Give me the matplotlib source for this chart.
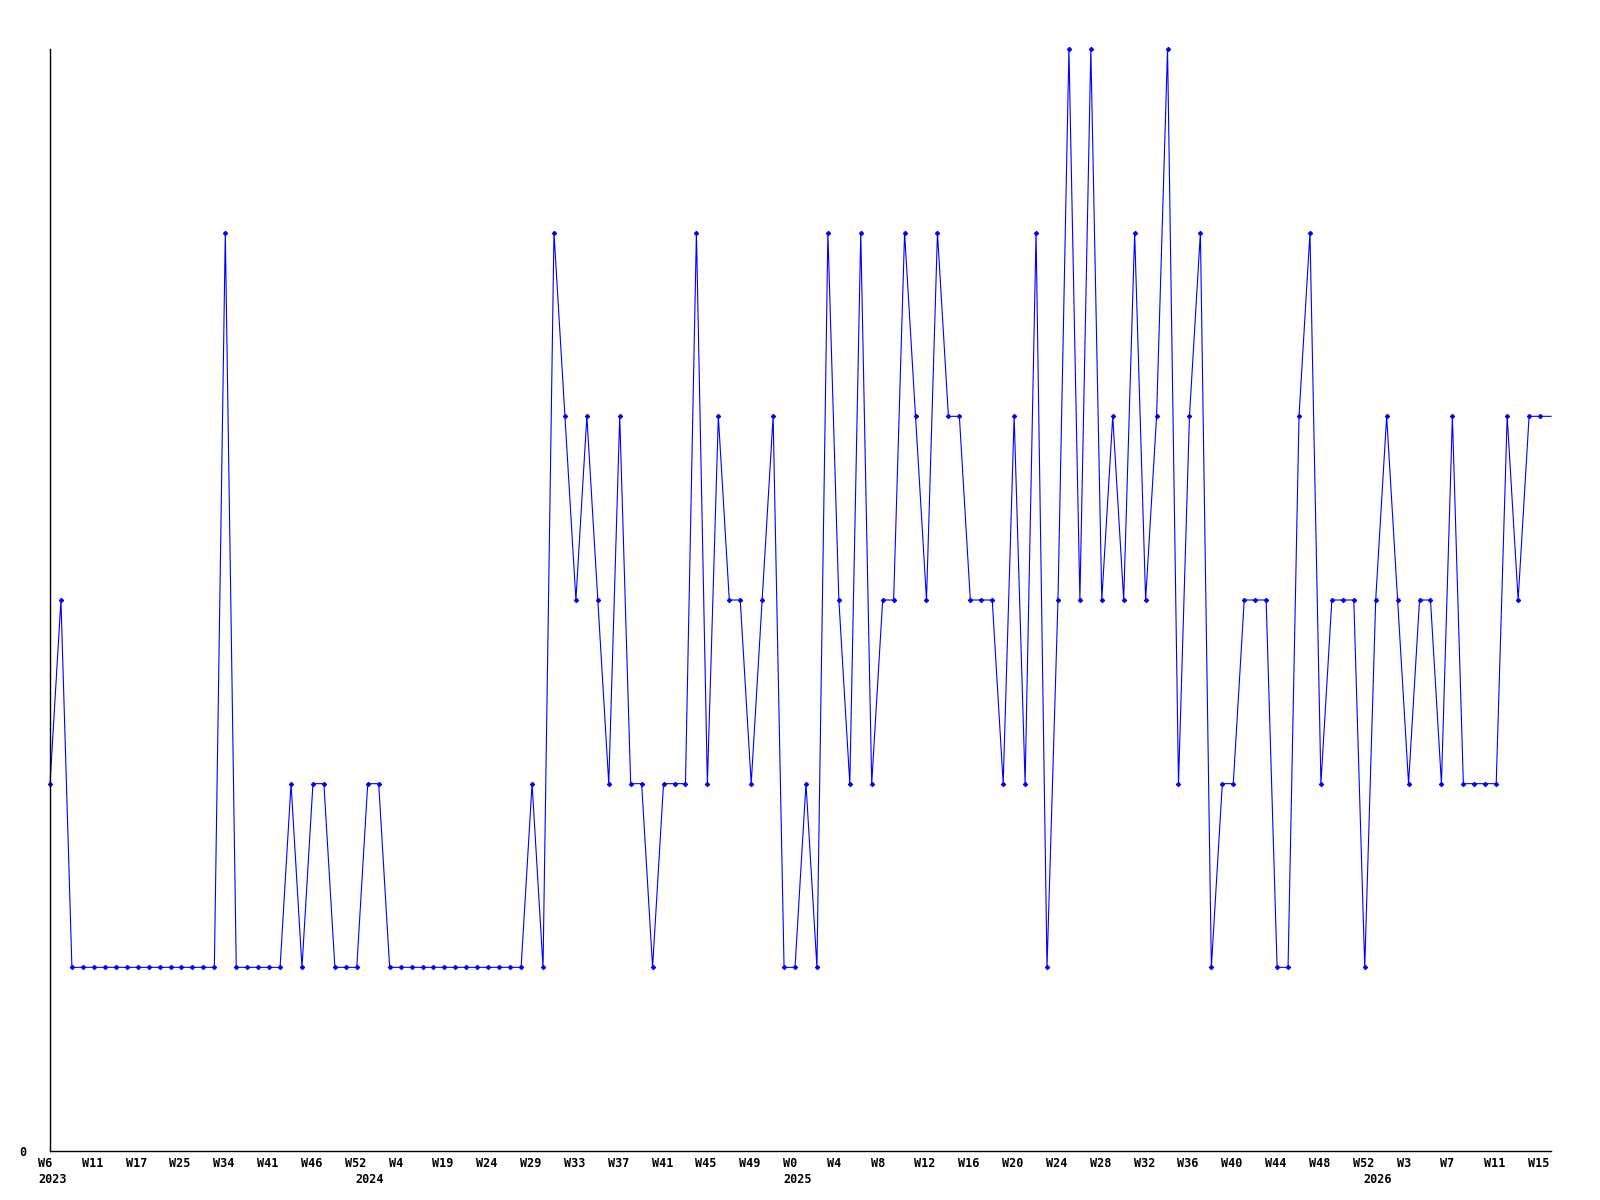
import matplotlib.pyplot as plt
from matplotlib.transforms import ScaledTranslation

# weekly values, one per point
values = [
    2, 3,
    1, 1, 1, 1, 1, 1, 1, 1, 1, 1, 1, 1, 1, 1,
    5,
    1, 1, 1, 1, 1,
    2, 1, 2, 2, 1, 1, 1, 2, 2,
    1, 1, 1, 1, 1, 1, 1, 1, 1, 1, 1, 1, 1,
    2, 1, 5, 4, 3, 4, 3, 2, 4, 2, 2, 1, 2, 2, 2, 5, 2, 4, 3, 3, 2, 3, 4,
    1, 1, 2, 1, 5, 3, 2, 5, 2, 3, 3, 5, 4, 3, 5, 4, 4, 3, 3, 3, 2, 4, 2, 5,
    1, 3, 6, 3, 6, 3, 4, 3, 5, 3, 4, 6, 2, 4, 5, 1, 2, 2, 3, 3, 3, 1, 1,
    4, 5, 2, 3, 3, 3, 1, 3, 4, 3, 2, 3, 3, 2, 4, 2, 2, 2, 2, 4, 3, 4, 4, 4,
]

# a week label every 4th point
week_labels = [
    "W6", "W11", "W17", "W25", "W34", "W41", "W46", "W52", "W4", "W19",
    "W24", "W29", "W33", "W37", "W41", "W45", "W49", "W0", "W4", "W8",
    "W12", "W16", "W20", "W24", "W28", "W32", "W36", "W40", "W44", "W48",
    "W52", "W3", "W7", "W11", "W15",
]
years = ["2023", "2024", "2025", "2026"]
year_pos = [0, 29, 68, 121]

x = list(range(len(values)))
tick_pos = list(range(0, len(values), 4))[:len(week_labels)]

fig = plt.figure(figsize=(16, 12), dpi=100)
ax = fig.add_axes([50 / 1600, 1 - 1151 / 1200, 1501 / 1600, 1102 / 1200])

# last point sits on the right edge, drawn without a marker like the original
ax.plot(x, values, color="#0000ff", linewidth=0.8, marker="D",
        markersize=2.2, markeredgewidth=0.8, markevery=slice(0, len(values) - 1),
        clip_on=False)

ax.set_xlim(0, len(values) - 1)
ax.set_ylim(0, 6)

for s in ["top", "right"]:
    ax.spines[s].set_visible(False)
for s in ["left", "bottom"]:
    ax.spines[s].set_linewidth(1.0)
    ax.spines[s].set_color("black")

font = dict(family="DejaVu Sans Mono", weight="bold", size=8.5)

ax.set_xticks(tick_pos)
ax.set_xticklabels(week_labels, ha="left", **font)
ax.tick_params(axis="x", length=0, pad=4)
shift = ScaledTranslation(-12 / 100, 0, fig.dpi_scale_trans)
for lbl in ax.get_xticklabels():
    lbl.set_transform(lbl.get_transform() + shift)

ax.set_yticks([0])
ax.set_yticklabels(["0"], **font)
ax.tick_params(axis="y", length=0, pad=17)

year_shift = ScaledTranslation(-12 / 100, -22 / 100, fig.dpi_scale_trans)
for yr, p in zip(years, year_pos):
    ax.text(p, 0, yr, ha="left", va="top",
            transform=ax.transData + year_shift, **font)

fig.savefig("out.png", dpi=100)
